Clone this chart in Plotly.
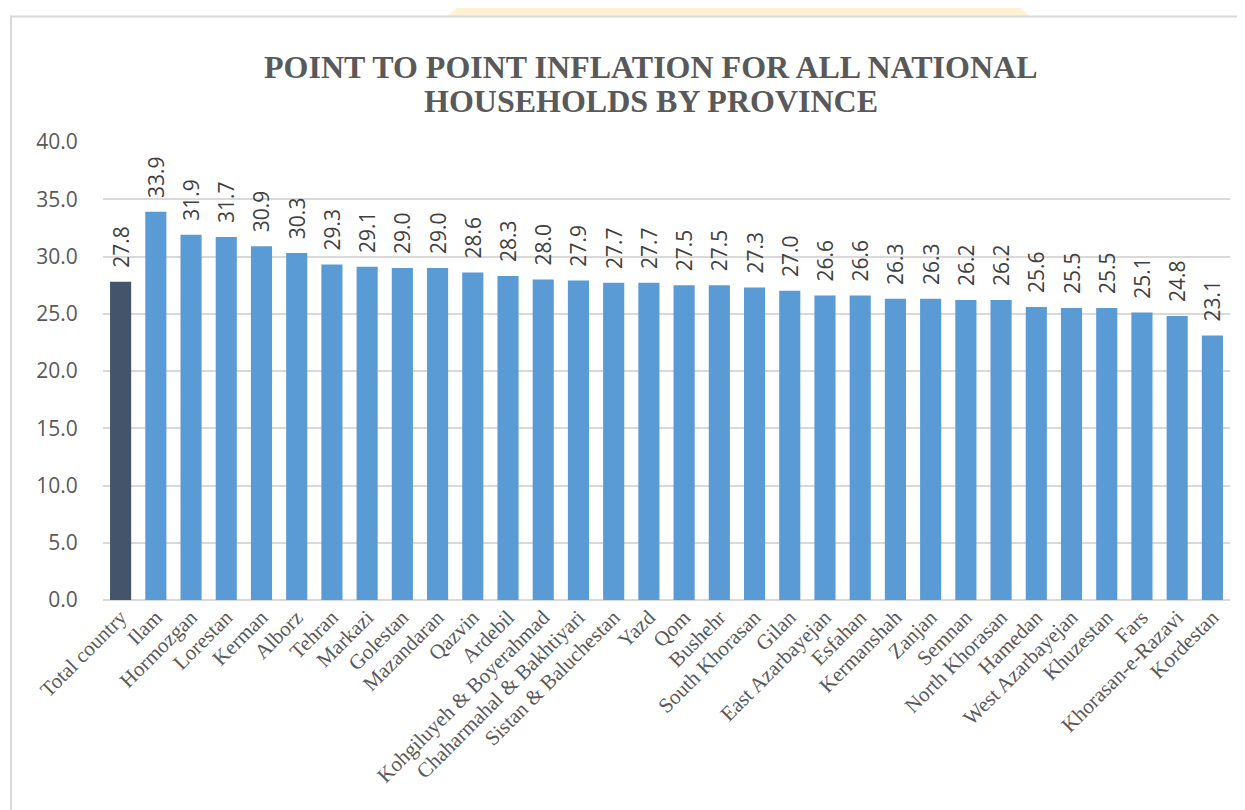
import plotly.graph_objects as go

provinces = ["Total country", "Ilam", "Hormozgan", "Lorestan", "Kerman", "Alborz", "Tehran",
             "Markazi", "Golestan", "Mazandaran", "Qazvin", "Ardebil",
             "Kohgiluyeh & Boyerahmad", "Chaharmahal & Bakhtiyari", "Sistan & Baluchestan",
             "Yazd", "Qom", "Bushehr", "South Khorasan", "Gilan", "East Azarbayejan",
             "Esfahan", "Kermanshah", "Zanjan", "Semnan", "North Khorasan", "Hamedan",
             "West Azarbayejan", "Khuzestan", "Fars", "Khorasan-e-Razavi", "Kordestan"]
inflation = [27.8, 33.9, 31.9, 31.7, 30.9, 30.3, 29.3, 29.1, 29.0, 29.0, 28.6, 28.3,
             28.0, 27.9, 27.7, 27.7, 27.5, 27.5, 27.3, 27.0, 26.6, 26.6, 26.3, 26.3,
             26.2, 26.2, 25.6, 25.5, 25.5, 25.1, 24.8, 23.1]
y_ticks = [0, 5, 10, 15, 20, 25, 30, 35, 40]
title_lines = ["POINT TO POINT INFLATION FOR ALL NATIONAL", "HOUSEHOLDS BY PROVINCE"]

OFF = 8  # page body margin
W, H = 1245, 810
ML, MR, MT, MB = 103 - OFF, 23, 142 - OFF, H - (600 - OFF)
pw, ph = W - ML - MR, H - MT - MB

def px_x(p):
    return (p - OFF - ML) / pw

def px_y(p):
    return (H - MB - (p - OFF)) / ph

colors = ["#44546A"] + ["#5B9BD5"] * (len(provinces) - 1)

fig = go.Figure(go.Bar(
    x=provinces, y=inflation,
    marker=dict(color=colors, line=dict(width=0)),
    text=["\u00a0\u00a0" + f"{v:.1f}" for v in inflation],
    textposition="outside", textangle=-90,
    textfont=dict(family="Open Sans, Roboto, sans-serif", size=21, color="#404040"),
    cliponaxis=False, constraintext="none",
))

title_font = dict(family="Liberation Serif, Times New Roman, serif", size=32, color="#595959")
annotations = [
    dict(text=f"<b>{line}</b>", xref="paper", yref="paper",
         x=px_x(651), y=px_y(yc), xanchor="center", yanchor="middle",
         showarrow=False, font=title_font)
    for line, yc in zip(title_lines, [67, 101])
]

border = dict(color="#D9D9D9", width=2)

fig.update_layout(
    width=W, height=H,
    margin=dict(l=ML, r=MR, t=MT, b=MB),
    paper_bgcolor="white", plot_bgcolor="white",
    bargap=0.4, showlegend=False,
    annotations=annotations,
    xaxis=dict(
        tickangle=-45, showgrid=False, showline=False, ticks="",
        tickfont=dict(family="Liberation Serif, Times New Roman, serif", size=21, color="#595959"),
        automargin=False,
    ),
    yaxis=dict(
        range=[0, 40], tickvals=y_ticks, tickformat=".1f",
        showgrid=True, gridcolor="#D9D9D9", gridwidth=1.5,
        zeroline=True, zerolinecolor="#D9D9D9", zerolinewidth=1.5,
        showline=False, ticks="outside", ticklen=20, tickcolor="rgba(0,0,0,0)",
        tickfont=dict(family="Open Sans, Roboto, sans-serif", size=21, color="#595959"),
        automargin=False,
    ),
    shapes=[
        dict(type="path", xref="paper", yref="paper",
             path=f"M {px_x(467)} {px_y(0)} L {px_x(1010)} {px_y(0)} L {px_x(1030)} {px_y(16)} L {px_x(447)} {px_y(16)} Z",
             fillcolor="#FFF2D4", line=dict(width=0), layer="below"),
        dict(type="line", xref="paper", yref="paper",
             x0=px_x(10), x1=px_x(1300), y0=px_y(16.5), y1=px_y(16.5), line=border, layer="below"),
        dict(type="line", xref="paper", yref="paper",
             x0=px_x(11), x1=px_x(11), y0=px_y(15.5), y1=px_y(900), line=border, layer="below"),
    ],
)

fig.write_html("out.html")
